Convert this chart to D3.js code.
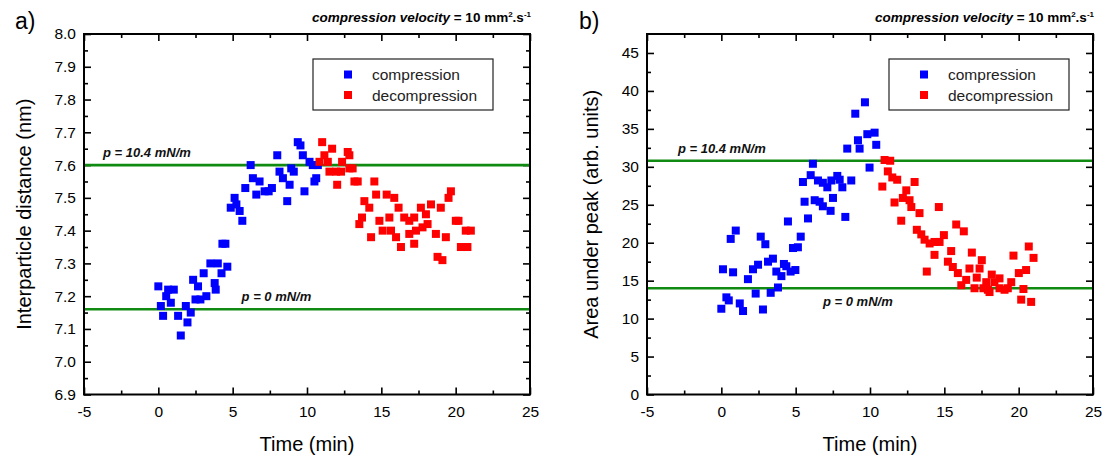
<!DOCTYPE html>
<html>
<head>
<meta charset="utf-8">
<script src="https://cdn.jsdelivr.net/npm/d3@7"></script>
<style>
  body { margin: 0; background: #fff; }
  svg { font-family: "Liberation Sans", Arial, sans-serif; }
</style>
</head>
<body>
<div id="chart"></div>
<script>
// tick labels
var timeTicks = [-5, 0, 5, 10, 15, 20, 25];
var distTicks = [6.9, 7.0, 7.1, 7.2, 7.3, 7.4, 7.5, 7.6, 7.7, 7.8, 7.9, 8.0];
var areaTicks = [0, 5, 10, 15, 20, 25, 30, 35, 40, 45];
var seriesNames = ["compression", "decompression"];
var levelNames = ["p = 10.4 mN/m", "p = 0 mN/m"];

// a) interparticle distance (nm)
var distCompTime = [0.00, 0.66, 1.04, 0.53, 0.17, 0.84, 0.32, 1.33, 1.85, 2.18, 1.96, 1.51, 2.50, 2.34, 2.67, 2.83,
  3.23, 3.79, 3.86, 3.05, 3.50, 4.00, 4.64, 4.25, 4.31, 4.51, 4.87, 5.13, 5.25, 5.47, 5.65, 6.21, 5.85, 6.36, 6.59,
  6.81, 7.15, 7.42, 7.64, 8.00, 8.15, 8.38, 8.67, 8.83, 8.94, 9.11, 9.38, 9.56, 9.72, 9.83, 10.17, 10.39, 10.62,
  10.73, 10.50];
var distCompValue = [7.23, 7.22, 7.22, 7.20, 7.17, 7.18, 7.14, 7.14, 7.17, 7.15, 7.12, 7.08, 7.19, 7.25, 7.23, 7.19,
  7.20, 7.24, 7.22, 7.27, 7.30, 7.30, 7.29, 7.27, 7.36, 7.36, 7.47, 7.50, 7.48, 7.46, 7.43, 7.60, 7.53, 7.56, 7.51,
  7.55, 7.52, 7.52, 7.53, 7.63, 7.58, 7.56, 7.49, 7.54, 7.59, 7.58, 7.67, 7.66, 7.63, 7.52, 7.61, 7.60, 7.56,
  7.60, 7.55];
var distDecompTime = [11.02, 11.69, 11.17, 12.74, 12.85, 10.84, 11.40, 12.36, 11.51, 11.96, 12.29, 12.85, 13.07,
  12.03, 13.19, 13.41, 14.53, 14.65, 15.36, 15.87, 13.86, 14.19, 13.70, 13.52, 14.87, 15.54, 15.09, 15.65, 15.99,
  14.31, 16.32, 16.16, 16.54, 16.88, 17.21, 17.66, 18.00, 18.34, 19.00, 18.11, 17.77, 17.33, 16.88, 17.21, 18.67,
  19.34, 19.68, 19.52, 20.01, 20.19, 20.68, 21.02, 20.35, 20.79, 18.78, 19.11];
var distDecompValue = [7.67, 7.65, 7.63, 7.64, 7.63, 7.61, 7.61, 7.61, 7.58, 7.58, 7.58, 7.59, 7.59,
  7.54, 7.55, 7.55, 7.55, 7.51, 7.51, 7.50, 7.49, 7.47, 7.44, 7.42, 7.43, 7.44, 7.40, 7.40, 7.38,
  7.38, 7.35, 7.47, 7.44, 7.43, 7.44, 7.47, 7.45, 7.48, 7.47, 7.42, 7.41, 7.40, 7.39, 7.36, 7.39,
  7.38, 7.52, 7.50, 7.43, 7.43, 7.40, 7.40, 7.35, 7.35, 7.32, 7.31];
var distLevels = [7.6, 7.16];

// b) area under peak (arb. units)
var areaCompTime = [0.00, 0.34, 0.50, 0.11, 0.79, 0.63, 0.97, 1.24, 1.46, 1.79, 2.13, 2.47, 2.31, 2.65, 2.96, 2.80,
  3.14, 3.47, 3.32, 3.81, 3.70, 4.04, 4.21, 4.37, 4.66, 4.98, 4.48, 4.82, 5.15, 5.34, 5.83, 5.60, 5.49, 6.01, 6.16,
  6.28, 6.61, 6.83, 7.35, 7.51, 6.50, 6.83, 7.13, 7.40, 7.80, 7.96, 8.14, 8.34, 8.74, 8.47, 9.01, 9.66, 9.19, 9.30,
  9.82, 10.31, 9.97, 10.42];
var areaCompValue = [11.3, 12.8, 12.4, 16.5, 16.1, 20.5, 21.6, 12.0, 11.0, 15.2, 16.5, 17.1, 13.3, 20.8, 19.8, 11.2,
  17.5, 17.9, 13.4, 14.1, 16.2, 15.6, 17.2, 16.9, 16.2, 16.4, 22.8, 19.3, 19.4, 20.8, 23.2, 25.4, 28.0, 28.9, 30.4,
  25.6, 25.4, 24.8, 24.2, 25.9, 28.2, 27.9, 27.3, 28.2, 28.8, 28.3, 27.3, 23.4, 28.2, 32.4, 37.0, 38.5, 33.5, 32.4,
  34.3, 34.5, 29.9, 32.9];
var areaDecompTime = [10.98, 11.36, 11.20, 11.50, 11.83, 10.83, 13.00, 12.44, 12.21, 11.65, 12.66, 12.78, 13.33,
  14.63, 12.10, 13.15, 13.45, 13.67, 14.01, 14.34, 14.68, 14.97, 14.34, 13.82, 15.80, 16.31, 15.46, 15.24, 15.57,
  15.91, 16.14, 16.47, 16.85, 16.69, 17.03, 17.18, 17.37, 17.52, 17.82, 17.93, 18.19, 18.37, 18.04, 17.63, 18.71,
  18.71, 19.05, 19.27, 19.50, 19.65, 20.01, 20.50, 20.32, 20.17, 20.84, 20.68, 21.00];
var areaDecompValue = [30.9, 30.8, 29.4, 28.6, 28.3, 27.4, 28.0, 26.9, 25.9, 25.3, 25.6, 24.7, 23.9,
  24.7, 22.9, 21.7, 21.1, 20.4, 19.9, 20.1, 20.1, 21.0, 18.4, 16.2, 22.4, 21.5, 18.9, 17.5, 16.8,
  16.0, 14.4, 15.1, 18.7, 16.6, 14.0, 15.4, 16.6, 17.7, 14.8, 13.8, 15.8, 14.8, 13.5, 14.0, 15.3,
  14.0, 13.8, 14.0, 14.8, 18.3, 16.0, 16.4, 13.9, 12.5, 12.2, 19.5, 18.0];
var areaLevels = [30.8, 14.0];

var width = 1104, height = 457,
    plotTop = 34, plotBottom = 394.5,
    colors = ["#0000ff", "#ff0000"],
    green = "#108a10",
    markerSize = 8;

var svg = d3.select("#chart").append("svg")
    .attr("width", width)
    .attr("height", height);

function pairs(t, v) {
  return t.map(function (d, i) { return [d, v[i]]; });
}

function minorOf(ticks) {
  var step = ticks[1] - ticks[0], out = [];
  ticks.forEach(function (d) { out.push(+(d + step / 2).toFixed(4)); });
  return out;
}

function panel(opts) {
  var x = d3.scaleLinear().domain([-5, 25]).range([opts.left, opts.right]);
  var y = d3.scaleLinear().domain(opts.yDomain).range([plotBottom, plotTop]);
  var g = svg.append("g");
  var xMinor = minorOf(timeTicks).filter(function (d) { return d < 25; });
  var yMinor = minorOf(opts.yTicks).filter(function (d) { return d < opts.yDomain[1]; });

  function axis(gen, vals, size, labels, fmt, tr) {
    var a = gen.tickValues(vals).tickSizeInner(size).tickSizeOuter(0).tickPadding(9);
    a.tickFormat(labels ? fmt : function () { return ""; });
    var ax = g.append("g").attr("transform", tr).call(a);
    ax.select(".domain").remove();
    ax.selectAll("line").attr("stroke", "#000").attr("stroke-width", 1.6);
    ax.selectAll("text").attr("fill", "#000").style("font-size", "15.5px");
    return ax;
  }
  var fx = function (d) { return String(d); };
  // bottom / top
  axis(d3.axisBottom(x), timeTicks, -7, true, fx, "translate(0," + plotBottom + ")")
    .selectAll("text").attr("y", 11);
  axis(d3.axisBottom(x), xMinor, -4, false, fx, "translate(0," + plotBottom + ")");
  axis(d3.axisTop(x), timeTicks, -7, false, fx, "translate(0," + plotTop + ")");
  axis(d3.axisTop(x), xMinor, -4, false, fx, "translate(0," + plotTop + ")");
  // left / right
  axis(d3.axisLeft(y), opts.yTicks, -7, true, opts.yFormat, "translate(" + opts.left + ",0)")
    .selectAll("text").attr("x", -8);
  axis(d3.axisLeft(y), yMinor, -4, false, fx, "translate(" + opts.left + ",0)");
  axis(d3.axisRight(y), opts.yTicks, -7, false, fx, "translate(" + opts.right + ",0)");
  axis(d3.axisRight(y), yMinor, -4, false, fx, "translate(" + opts.right + ",0)");

  // pressure levels
  g.selectAll(".level").data(opts.levels).enter().append("line")
    .attr("x1", opts.left).attr("x2", opts.right)
    .attr("y1", function (d) { return y(d); })
    .attr("y2", function (d) { return y(d); })
    .attr("stroke", green).attr("stroke-width", 2.6);
  g.selectAll(".lvlabel").data(opts.levels).enter().append("text")
    .attr("x", function (d, i) { return x(opts.labelAt[i][0]); })
    .attr("y", function (d, i) { return y(d) + opts.labelAt[i][1]; })
    .style("font-size", "13px").style("font-weight", "bold").style("font-style", "italic")
    .attr("fill", "#111")
    .text(function (d, i) { return levelNames[i]; });

  // points
  [opts.comp, opts.decomp].forEach(function (series, k) {
    g.append("g").selectAll("rect").data(series).enter().append("rect")
      .attr("x", function (d) { return x(d[0]) - markerSize / 2; })
      .attr("y", function (d) { return y(d[1]) - markerSize / 2; })
      .attr("width", markerSize).attr("height", markerSize)
      .attr("fill", colors[k]);
  });

  // frame
  g.append("rect")
    .attr("x", opts.left).attr("y", plotTop)
    .attr("width", opts.right - opts.left).attr("height", plotBottom - plotTop)
    .attr("fill", "none").attr("stroke", "#000").attr("stroke-width", 2);

  // legend
  var lg = g.append("g").attr("transform", "translate(" + opts.legendX + ",59)");
  lg.append("rect").attr("width", 180).attr("height", 51)
    .attr("fill", "#fff").attr("stroke", "#222").attr("stroke-width", 1.2);
  seriesNames.forEach(function (name, i) {
    lg.append("rect").attr("x", 31).attr("y", 11.5 + i * 20.5)
      .attr("width", markerSize).attr("height", markerSize).attr("fill", colors[i]);
    lg.append("text").attr("x", 59).attr("y", 21 + i * 20.5)
      .style("font-size", "15.5px").attr("fill", "#222").text(name);
  });

  // titles
  g.append("text").attr("x", (opts.left + opts.right) / 2).attr("y", 451)
    .attr("text-anchor", "middle").style("font-size", "20px").text("Time (min)");
  g.append("text")
    .attr("transform", "translate(" + opts.yTitleX + "," + ((plotTop + plotBottom) / 2) + ") rotate(-90)")
    .attr("text-anchor", "middle").style("font-size", "20px").text(opts.yTitle);
  g.append("text").attr("x", opts.letterX).attr("y", 29)
    .style("font-size", "23px").text(opts.letter);

  var t = g.append("text").attr("x", opts.right + 1).attr("y", 22)
    .attr("text-anchor", "end").style("font-size", "13.5px").style("font-weight", "bold");
  t.append("tspan").style("font-style", "italic").text("compression velocity");
  t.append("tspan").text(" = 10 mm");
  t.append("tspan").attr("dy", -5).style("font-size", "8px").text("2");
  t.append("tspan").attr("dy", 5).text(".s");
  t.append("tspan").attr("dy", -5).style("font-size", "8px").text("-1");
}

panel({
  left: 84, right: 530,
  yDomain: [6.9, 8.0], yTicks: distTicks, yFormat: d3.format(".1f"),
  comp: pairs(distCompTime, distCompValue),
  decomp: pairs(distDecompTime, distDecompValue),
  levels: distLevels,
  labelAt: [[-3.72, -8], [5.6, -8]],
  legendX: 313,
  yTitle: "Interparticle distance (nm)", yTitleX: 31,
  letter: "a)", letterX: 15
});

panel({
  left: 647, right: 1093,
  yDomain: [0, 47.5], yTicks: areaTicks, yFormat: function (d) { return String(d); },
  comp: pairs(areaCompTime, areaCompValue),
  decomp: pairs(areaDecompTime, areaDecompValue),
  levels: areaLevels,
  labelAt: [[-2.92, -8], [6.84, 18]],
  legendX: 889,
  yTitle: "Area under peak (arb. units)", yTitleX: 598,
  letter: "b)", letterX: 579
});
</script>
</body>
</html>
